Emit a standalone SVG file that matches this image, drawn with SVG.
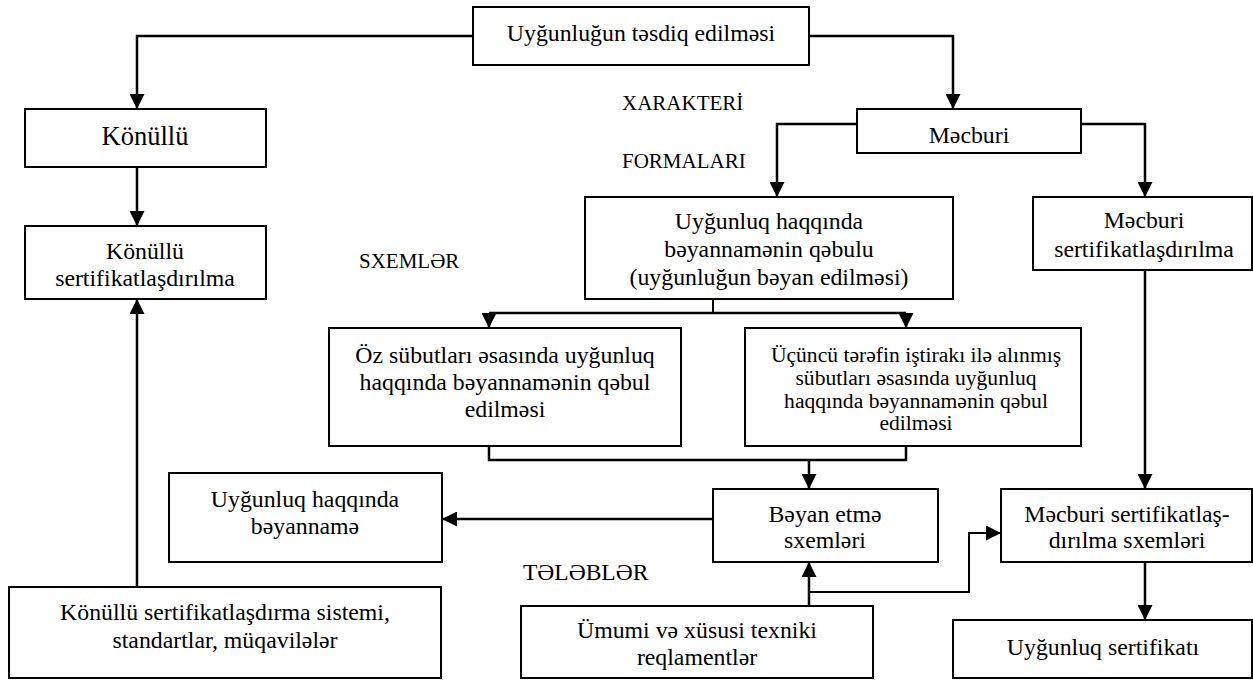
<svg xmlns="http://www.w3.org/2000/svg" width="1253" height="680" viewBox="0 0 1253 680">
  <style>
    .box { fill: #fff; stroke: #000; stroke-width: 2; }
    .t { font-family: "Liberation Serif", "DejaVu Serif", serif; font-size: 23.8px; fill: #000; text-anchor: middle; }
    .s { font-size: 21.6px; }
    .lbl { font-family: "Liberation Serif", "DejaVu Serif", serif; font-size: 21px; fill: #000; }
    .c { fill: none; stroke: #000; stroke-width: 2.5; }
    .thin { stroke-width: 2; }
  </style>
  <defs>
    <marker id="arr" markerUnits="userSpaceOnUse" markerWidth="15" markerHeight="15" refX="15" refY="7.5" orient="auto">
      <path d="M0,0 L15,7.5 L0,15 z" fill="#000"/>
    </marker>
  </defs>

  <!-- connectors -->
  <g id="connectors">
    <path class="c" d="M473,36 H137 V109" marker-end="url(#arr)"/>
    <path class="c" d="M809,36 H953 V109" marker-end="url(#arr)"/>
    <path class="c" d="M137,167 V226" marker-end="url(#arr)"/>
    <path class="c" d="M137,587 V299" marker-end="url(#arr)"/>
    <path class="c" d="M857,124 H777 V197" marker-end="url(#arr)"/>
    <path class="c" d="M1081,124 H1145 V197" marker-end="url(#arr)"/>
    <path class="c thin" d="M713,299 V313"/>
    <path class="c" d="M489,313 H906"/>
    <path class="c" d="M489,313 V328" marker-end="url(#arr)"/>
    <path class="c" d="M906,313 V328" marker-end="url(#arr)"/>
    <path class="c" d="M489,446 V460 H906 V446"/>
    <path class="c" d="M809,460 V489" marker-end="url(#arr)"/>
    <path class="c" d="M713,519 H442" marker-end="url(#arr)"/>
    <path class="c" d="M809,606 V562" marker-end="url(#arr)"/>
    <path class="c thin" d="M809,592 H969 V533 H1001" marker-end="url(#arr)"/>
    <path class="c" d="M1145,270 V489" marker-end="url(#arr)"/>
    <path class="c" d="M1145,562 V620" marker-end="url(#arr)"/>
  </g>

  <!-- free labels -->
  <g id="labels">
    <text class="lbl" x="622" y="110">XARAKTERİ</text>
    <text class="lbl" x="622" y="168">FORMALARI</text>
    <text class="lbl" x="359" y="268">SXEMLƏR</text>
    <text class="lbl" x="523" y="580" style="font-size:23.5px">TƏLƏBLƏR</text>
  </g>

  <g id="n-root">
    <rect class="box" x="473" y="7" width="336" height="58"/>
    <text class="t" x="641" y="41">Uyğunluğun təsdiq edilməsi</text>
  </g>

  <g id="n-konullu">
    <rect class="box" x="25" y="109" width="241" height="58"/>
    <text class="t" x="145" y="145" style="font-size:26.5px">Könüllü</text>
  </g>

  <g id="n-konullu-sert">
    <rect class="box" x="25" y="226" width="241" height="73"/>
    <text class="t" x="145" y="259">Könüllü</text>
    <text class="t" x="145" y="286">sertifikatlaşdırılma</text>
  </g>

  <g id="n-mecburi">
    <rect class="box" x="857" y="109" width="224" height="44"/>
    <text class="t" x="969" y="143">Məcburi</text>
  </g>

  <g id="n-beyanname-qebulu">
    <rect class="box" x="585" y="197" width="368" height="102"/>
    <text class="t" x="769" y="229">Uyğunluq haqqında</text>
    <text class="t" x="769" y="257">bəyannamənin qəbulu</text>
    <text class="t" x="769" y="285">(uyğunluğun bəyan edilməsi)</text>
  </g>

  <g id="n-mecburi-sert">
    <rect class="box" x="1033" y="197" width="219" height="73"/>
    <text class="t" x="1144" y="228">Məcburi</text>
    <text class="t" x="1144" y="257">sertifikatlaşdırılma</text>
  </g>

  <g id="n-oz-subut">
    <rect class="box" x="329" y="328" width="352" height="118"/>
    <text class="t" x="505" y="363">Öz sübutları əsasında uyğunluq</text>
    <text class="t" x="505" y="390">haqqında bəyannamənin qəbul</text>
    <text class="t" x="505" y="417">edilməsi</text>
  </g>

  <g id="n-ucuncu-teref">
    <rect class="box" x="745" y="328" width="336" height="118"/>
    <text class="t s" x="916" y="362">Üçüncü tərəfin iştirakı ilə alınmış</text>
    <text class="t s" x="916" y="385">sübutları əsasında uyğunluq</text>
    <text class="t s" x="916" y="408">haqqında bəyannamənin qəbul</text>
    <text class="t s" x="916" y="430">edilməsi</text>
  </g>

  <g id="n-beyanname">
    <rect class="box" x="169" y="473" width="273" height="89"/>
    <text class="t" x="305" y="507">Uyğunluq haqqında</text>
    <text class="t" x="305" y="534">bəyannamə</text>
  </g>

  <g id="n-beyan-sxem">
    <rect class="box" x="713" y="489" width="225" height="73"/>
    <text class="t" x="825" y="522">Bəyan etmə</text>
    <text class="t" x="825" y="548">sxemləri</text>
  </g>

  <g id="n-mecburi-sxem">
    <rect class="box" x="1001" y="489" width="251" height="73"/>
    <text class="t" x="1127" y="522">Məcburi sertifikatlaş-</text>
    <text class="t" x="1127" y="548">dırılma sxemləri</text>
  </g>

  <g id="n-konullu-sistem">
    <rect class="box" x="9" y="587" width="432" height="91"/>
    <text class="t" x="225" y="620">Könüllü sertifikatlaşdırma sistemi,</text>
    <text class="t" x="225" y="648">standartlar, müqavilələr</text>
  </g>

  <g id="n-reqlament">
    <rect class="box" x="521" y="606" width="352" height="72"/>
    <text class="t" x="697" y="638">Ümumi və xüsusi texniki</text>
    <text class="t" x="697" y="665">reqlamentlər</text>
  </g>

  <g id="n-sertifikat">
    <rect class="box" x="953" y="620" width="299" height="58"/>
    <text class="t" x="1103" y="655">Uyğunluq sertifikatı</text>
  </g>
</svg>
